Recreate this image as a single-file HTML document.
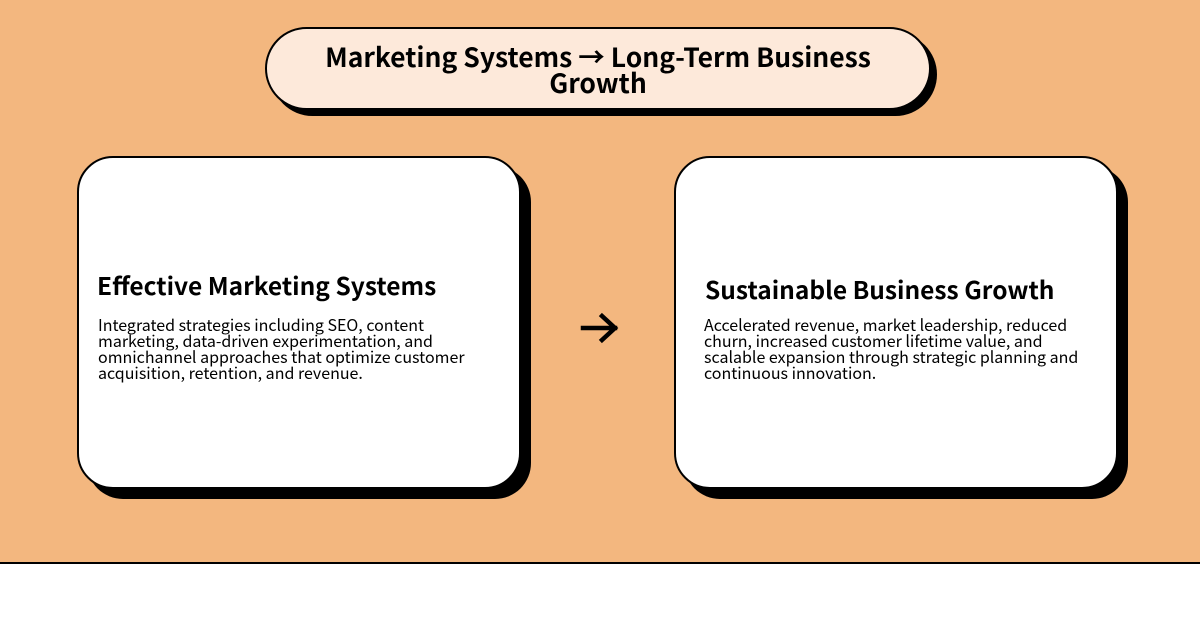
<!DOCTYPE html>
<html><head><meta charset="utf-8"><style>
body{margin:0;width:1200px;height:630px;background:#fff;position:relative;overflow:hidden;font-family:"Noto Sans CJK JP","Liberation Sans",sans-serif;color:#000}
.bg{position:absolute;left:0;top:0;width:1200px;height:562px;background:#f3b77f;border-bottom:2px solid #000}
.sh{position:absolute;background:#000}
.box{position:absolute;background:#fff;border:2.5px solid #000;box-sizing:border-box}
.pill{left:265px;top:27px;width:666px;height:83px;border-radius:42px;background:#fde9da;text-align:center;font-weight:bold;font-size:26.5px;line-height:26px;padding-top:14px}
.card{width:444px;height:333px;border-radius:36px}
h2{position:absolute;margin:0;font-size:24.5px;font-weight:bold;white-space:nowrap}
p{position:absolute;margin:0;font-size:16px;line-height:16px;width:378px}
</style></head><body>
<div class="bg"></div>
<div class="sh" style="left:271px;top:33px;width:666px;height:83px;border-radius:42px"></div>
<div class="box pill">Marketing Systems → Long-Term Business<br>Growth</div>

<div class="sh" style="left:87px;top:166px;width:444px;height:333px;border-radius:36px"></div>
<div class="box card" style="left:77px;top:156px"></div>
<h2 style="left:97px;top:268px">Effective Marketing Systems</h2>
<p style="left:98px;top:316px">Integrated strategies including SEO, content marketing, data-driven experimentation, and omnichannel approaches that optimize customer acquisition, retention, and revenue.</p>

<svg style="position:absolute;left:578px;top:308px" width="44" height="40" viewBox="0 0 44 40">
<path d="M5 20 H37 M24 8 L37 20 L24 32" fill="none" stroke="#000" stroke-width="4.5" stroke-linecap="square"/>
</svg>

<div class="sh" style="left:684px;top:166px;width:444px;height:333px;border-radius:36px"></div>
<div class="box card" style="left:674px;top:156px"></div>
<h2 style="left:705px;top:272px">Sustainable Business Growth</h2>
<p style="left:704px;top:316px">Accelerated revenue, market leadership, reduced churn, increased customer lifetime value, and scalable expansion through strategic planning and continuous innovation.</p>
</body></html>
